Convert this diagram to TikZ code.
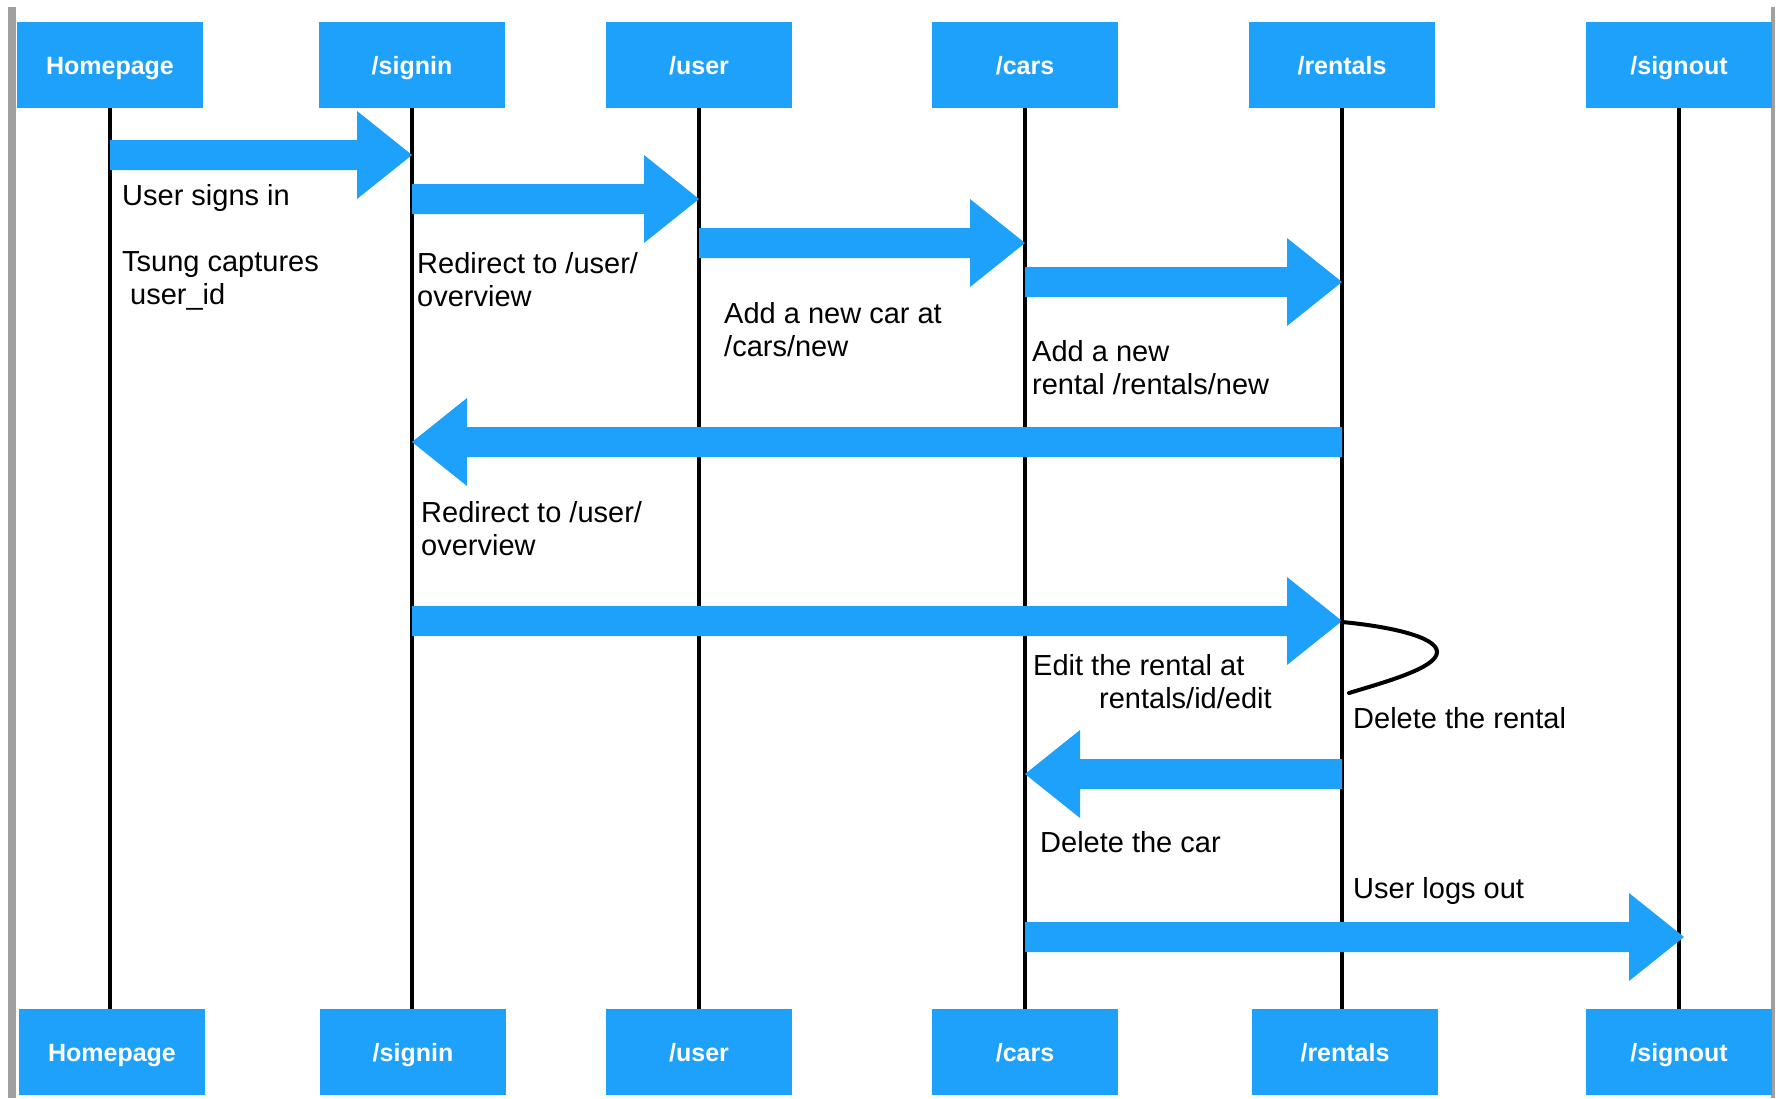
\documentclass[tikz,border=0pt]{standalone}
\usepackage{fontspec}
\setmainfont{Liberation Sans}
\usetikzlibrary{calc}
\definecolor{kblue}{RGB}{29,161,250}
\definecolor{framegray}{RGB}{160,160,160}
\tikzset{
  lifebox/.style={fill=kblue, minimum width=186pt, minimum height=86pt, inner sep=0pt,
    text height=18pt, text depth=0pt,
    text=white, font=\fontsize{25}{30}\selectfont\bfseries},
  lifeline/.style={line width=4.5pt, black},
  msgtext/.style={anchor=base west, inner sep=0pt, align=left,
    font=\fontsize{29}{33}\selectfont},
  loopline/.style={line width=4pt, black, line cap=round},
  framebar/.style={fill=framegray},
}
% fat block arrow from #1 to #2 (same height)
\newcommand{\fatarrow}[2]{%
  \fill[kblue] let \p1=(#1), \p2=(#2), \n1={(\x2-\x1)/abs(\x2-\x1)} in
    (\x1,\y1+15pt) -- (\x2-\n1*55pt,\y1+15pt) -- (\x2-\n1*55pt,\y1+44pt)
    -- (\x2,\y1) -- (\x2-\n1*55pt,\y1-44pt) -- (\x2-\n1*55pt,\y1-15pt)
    -- (\x1,\y1-15pt) -- cycle;}
\begin{document}
\begin{tikzpicture}[x=1pt,y=-1pt]
\useasboundingbox (0,0) rectangle (1779,1098);
\fill[white] (0,0) rectangle (1779,1098);
% frame bars
\fill[framebar] (8,7) rectangle (16,1098);
\fill[framebar] (1771,7) rectangle (1775,1098);

% top boxes
\node[lifebox] (tHome) at (110,65) {Homepage};
\node[lifebox] (tSign) at (412,65) {/signin};
\node[lifebox] (tUser) at (699,65) {/user};
\node[lifebox] (tCars) at (1025,65) {/cars};
\node[lifebox] (tRent) at (1342,65) {/rentals};
\node[lifebox] (tOut)  at (1679,65) {/signout};
% bottom boxes
\node[lifebox] (bHome) at (112,1052) {Homepage};
\node[lifebox] (bSign) at (413,1052) {/signin};
\node[lifebox] (bUser) at (699,1052) {/user};
\node[lifebox] (bCars) at (1025,1052) {/cars};
\node[lifebox] (bRent) at (1345,1052) {/rentals};
\node[lifebox] (bOut)  at (1679,1052) {/signout};

% lifelines
\foreach \n in {Home,Sign,User,Cars,Rent,Out}{
  \draw[lifeline] (t\n.south) -- (t\n.south |- b\n.north);
}

% message end points
\coordinate (m1a) at (tHome.south |- 0,155);
\coordinate (m1b) at (tSign.south |- 0,155);
\coordinate (m2a) at (tSign.south |- 0,199);
\coordinate (m2b) at (tUser.south |- 0,199);
\coordinate (m3a) at (tUser.south |- 0,243);
\coordinate (m3b) at (tCars.south |- 0,243);
\coordinate (m4a) at (tCars.south |- 0,282);
\coordinate (m4b) at (tRent.south |- 0,282);
\coordinate (m5a) at (tRent.south |- 0,442);
\coordinate (m5b) at (tSign.south |- 0,442);
\coordinate (m6a) at (tSign.south |- 0,621);
\coordinate (m6b) at (tRent.south |- 0,621);
\coordinate (m7a) at (tRent.south |- 0,774);
\coordinate (m7b) at (tCars.south |- 0,774);
\coordinate (m8a) at (tCars.south |- 0,937);
\coordinate (m8b) at ($(tOut.south |- 0,937)+(5,0)$);

\fatarrow{m1a}{m1b}
\fatarrow{m2a}{m2b}
\fatarrow{m3a}{m3b}
\fatarrow{m4a}{m4b}
\fatarrow{m5a}{m5b}
\fatarrow{m6a}{m6b}
\fatarrow{m7a}{m7b}
\fatarrow{m8a}{m8b}

% self loop on /rentals
\coordinate (l1) at (tRent.south |- 0,622);
\coordinate (l2) at ($(tRent.south |- 0,693)+(7,0)$);
\draw[loopline] (l1) .. controls (1385,626) and (1437,636) .. (1437,652)
  .. controls (1437,668) and (1385,682) .. (l2);

% message labels (anchored at the baseline of the last line)
\node[msgtext] (t1) at (122,304) {User signs in\\[33pt]Tsung captures\\\hspace*{8pt}user\_id};
\node[msgtext] (t2) at (417,306) {Redirect to /user/\\overview};
\node[msgtext] (t3) at (724,356) {Add a new car at\\/cars/new};
\node[msgtext] (t4) at (1032,394) {Add a new\\rental /rentals/new};
\node[msgtext] (t5) at (421,555) {Redirect to /user/\\overview};
\node[msgtext] (t6) at (1033,708) {Edit the rental at\\\hspace*{66pt}rentals/id/edit};
\node[msgtext] (t7) at (1353,728) {Delete the rental};
\node[msgtext] (t8) at (1040,852) {Delete the car};
\node[msgtext] (t9) at (1353,898) {User logs out};
\end{tikzpicture}
\end{document}
